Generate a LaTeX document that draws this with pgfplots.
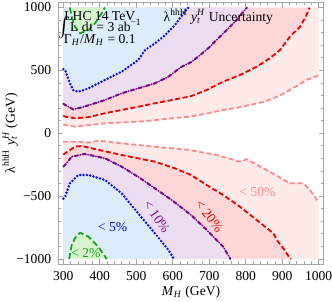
\documentclass[border=0pt]{standalone}
\usepackage{fontspec}
\setmainfont{Liberation Serif}
\usepackage{pgfplots}
\pgfplotsset{compat=1.18}
\definecolor{cLRfill}{HTML}{FFEAEA}
\definecolor{cRfill}{HTML}{FFD7D7}
\definecolor{cPfill}{HTML}{ECDDF0}
\definecolor{cBfill}{HTML}{DCECFA}
\definecolor{cGfill}{HTML}{D6F5CE}
\definecolor{cLR}{HTML}{FF8A8A}
\definecolor{cR}{HTML}{EE0000}
\definecolor{cP}{HTML}{7A0A8A}
\definecolor{cB}{HTML}{0A0AF0}
\definecolor{cG}{HTML}{1EA01E}
\newcommand{\fs}{\fontsize{6.8}{8}\selectfont}
\newcommand{\yt}{\textit{y}\makebox[0pt][l]{\textsubscript{\textit{t}}}\textsuperscript{\textit{H}}}
\begin{document}
\begin{tikzpicture}
\begin{axis}[
 scale only axis, width=132.8pt, height=130.75pt,
 xmin=286, xmax=1014, ymin=-1040, ymax=1040,
 axis on top,
 xtick={300,400,...,1000}, xticklabels={300,400,500,600,700,800,900,1000},
 ytick={-1000,-500,0,500,1000}, yticklabels={−1000,−500,0,500,1000},
 minor x tick num=4, minor y tick num=4,
 tick align=inside, major tick length=2.5pt, minor tick length=1.4pt,
 axis line style={gray!70, line width=0.4pt},
 every tick/.style={gray!70, line width=0.4pt},
 tick label style={font=\fs, text=black},
 xlabel={\textit{M}\textsubscript{\textit{H}} (GeV)},
 ylabel={λ\textsuperscript{hhH} \yt{} (GeV)},
 label style={font=\fs},
 xlabel style={at={(axis description cs:0.5,-0.107)}, anchor=center},
 ylabel style={at={(axis description cs:-0.1815,0.5)}, anchor=center, rotate=0},
]
% ---------- fills upper ----------
\addplot[fill=cLRfill, draw=none] coordinates {(300,70) (305,66) (332,52) (360,62) (414,79) (460,86) (505,92) (551,104) (597,119) (647,132) (690,155) (738,185) (780,205) (812,225) (850,250) (876,278) (900,310) (921,344) (945,385) (967,424) (985,445) (1000,458) (1000,1000) (300,1000)};
\addplot[fill=cRfill, draw=none] coordinates {(300,140) (305,132) (332,119) (369,128) (414,159) (460,185) (505,211) (551,238) (597,264) (650,295) (693,344) (738,410) (784,463) (830,529) (866,596) (894,662) (921,768) (949,847) (965,930) (975,1000) (300,1000)};
\addplot[fill=cPfill, draw=none] coordinates {(300,235) (305,225) (327,190) (350,205) (414,264) (460,318) (505,357) (551,397) (588,450) (624,529) (650,565) (675,622) (702,688) (720,742) (748,821) (775,901) (803,1000) (300,1000)};
\addplot[fill=cBfill, draw=none] coordinates {(300,510) (305,503) (318,400) (327,344) (341,330) (369,357) (414,424) (460,490) (505,582) (524,662) (551,715) (579,781) (606,861) (633,967) (643,1000) (300,1000)};
\addplot[fill=cGfill, draw=none] coordinates {(318,1000) (323,927) (332,847) (346,795) (369,821) (387,874) (405,954) (414,1000)};
% ---------- fills lower ----------
\addplot[fill=cLRfill, draw=none] coordinates {(300,-70) (305,-67) (341,-67) (369,-75) (396,-59) (460,-80) (551,-107) (647,-133) (720,-173) (784,-226) (803,-207) (857,-292) (921,-398) (958,-398) (976,-451) (1000,-550) (1000,-1000) (300,-1000)};
\addplot[fill=cRfill, draw=none] coordinates {(300,-170) (305,-159) (332,-107) (350,-101) (378,-120) (460,-173) (551,-226) (606,-279) (650,-332) (693,-412) (738,-491) (784,-584) (830,-690) (876,-796) (885,-849) (903,-915) (921,-995) (925,-1000) (300,-1000)};
\addplot[fill=cPfill, draw=none] coordinates {(300,-265) (305,-252) (323,-186) (359,-165) (414,-199) (460,-266) (505,-346) (551,-438) (597,-531) (650,-650) (693,-769) (738,-902) (758,-1000) (300,-1000)};
\addplot[fill=cBfill, draw=none] coordinates {(300,-520) (305,-505) (318,-398) (341,-332) (369,-332) (414,-372) (460,-478) (505,-637) (551,-796) (588,-928) (603,-1000) (300,-1000)};
\addplot[fill=cGfill, draw=none] coordinates {(316,-1000) (323,-889) (332,-835) (346,-791) (369,-823) (396,-902) (419,-1000)};
% ---------- contour lines upper ----------
\addplot[cLR, line width=0.9pt, dash pattern=on 2.5pt off 1.3pt] coordinates {(300,70) (305,66) (332,52) (360,62) (414,79) (460,86) (505,92) (551,104) (597,119) (647,132) (690,155) (738,185) (780,205) (812,225) (850,250) (876,278) (900,310) (921,344) (945,385) (967,424) (985,445) (1000,458)};
\addplot[cR, line width=0.9pt, dash pattern=on 2.5pt off 1.3pt] coordinates {(300,140) (305,132) (332,119) (369,128) (414,159) (460,185) (505,211) (551,238) (597,264) (650,295) (693,344) (738,410) (784,463) (830,529) (866,596) (894,662) (921,768) (949,847) (965,930) (975,1000)};
\addplot[cP, line width=1pt, line cap=round, dash pattern=on 1.8pt off 1.1pt on 0pt off 1.1pt] coordinates {(300,235) (305,225) (327,190) (350,205) (414,264) (460,318) (505,357) (551,397) (588,450) (624,529) (650,565) (675,622) (702,688) (720,742) (748,821) (775,901) (803,1000)};
\addplot[cB, line width=1.35pt, line cap=round, dash pattern=on 0pt off 1.7pt] coordinates {(300,510) (305,503) (318,400) (327,344) (341,330) (369,357) (414,424) (460,490) (505,582) (524,662) (551,715) (579,781) (606,861) (633,967) (643,1000)};
\addplot[cG, line width=0.9pt, dash pattern=on 3pt off 1.5pt] coordinates {(318,1000) (323,927) (332,847) (346,795) (369,821) (387,874) (405,954) (414,1000)};
% ---------- contour lines lower ----------
\addplot[cLR, line width=0.9pt, dash pattern=on 2.5pt off 1.3pt] coordinates {(300,-70) (305,-67) (341,-67) (369,-75) (396,-59) (460,-80) (551,-107) (647,-133) (720,-173) (784,-226) (803,-207) (857,-292) (921,-398) (958,-398) (976,-451) (1000,-550)};
\addplot[cR, line width=0.9pt, dash pattern=on 2.5pt off 1.3pt] coordinates {(300,-170) (305,-159) (332,-107) (350,-101) (378,-120) (460,-173) (551,-226) (606,-279) (650,-332) (693,-412) (738,-491) (784,-584) (830,-690) (876,-796) (885,-849) (903,-915) (921,-995) (925,-1000)};
\addplot[cP, line width=1pt, line cap=round, dash pattern=on 1.8pt off 1.1pt on 0pt off 1.1pt] coordinates {(300,-265) (305,-252) (323,-186) (359,-165) (414,-199) (460,-266) (505,-346) (551,-438) (597,-531) (650,-650) (693,-769) (738,-902) (758,-1000)};
\addplot[cB, line width=1.35pt, line cap=round, dash pattern=on 0pt off 1.7pt] coordinates {(300,-520) (305,-505) (318,-398) (341,-332) (369,-332) (414,-372) (460,-478) (505,-637) (551,-796) (588,-928) (603,-1000)};
\addplot[cG, line width=0.9pt, dash pattern=on 3pt off 1.5pt] coordinates {(316,-1000) (323,-889) (332,-835) (346,-791) (369,-823) (396,-902) (419,-1000)};
% ---------- texts ----------
\node[font=\fs] at (axis cs:400,935) {LHC 14 TeV};
\node[font=\fs] at (axis cs:400,840) {$\int$\kern-0.5pt L d\kern0.3pt t = 3 ab\textsuperscript{−1}};
\node[font=\fs] at (axis cs:400,745) {Γ\textsubscript{\textit{H}}/\textit{M}\textsubscript{\textit{H}} = 0.1};
\node[font=\fs] at (axis cs:725,928) {λ\textsuperscript{hhH} \yt{} Uncertainty};
\node[font=\fs, text=cG] at (axis cs:362,-950) {< 2\%};
\node[font=\fs, text=cB] at (axis cs:435,-743) {< 5\%};
\node[font=\fs, text=cP, rotate=-55] at (axis cs:556,-665) {< 10\%};
\node[font=\fs, text=cR, rotate=-52] at (axis cs:700,-660) {< 20\%};
\node[font=\fs, text=cLR] at (axis cs:832,-467) {< 50\%};
\coordinate (BL) at (rel axis cs:0,0);
\coordinate (TR) at (rel axis cs:1,1);
\end{axis}
\pgfresetboundingbox
\path ([shift={(-29.1pt,-18.5pt)}]BL) rectangle ([shift={(4.1pt,1.25pt)}]TR);
\end{tikzpicture}
\end{document}
